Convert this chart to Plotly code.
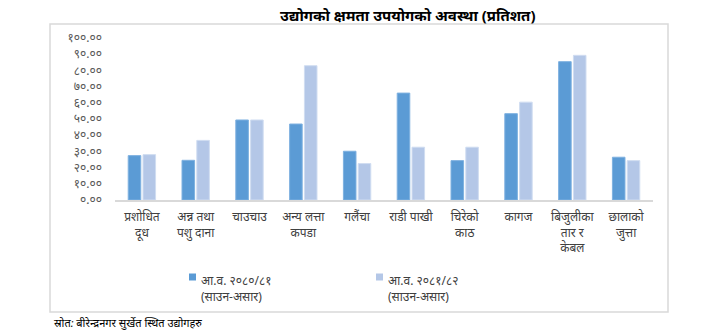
import plotly.graph_objects as go

categories = ["प्रशोधित<br>दूध", "अन्न तथा<br>पशु दाना", "चाउचाउ", "अन्य लत्ता<br>कपडा",
              "गलैंचा", "राडी पाखी", "चिरेको<br>काठ", "कागज",
              "बिजुलीका<br>तार र<br>केबल", "छालाको<br>जुत्ता"]
series_names = ["आ.व. २०८०/८१<br>(साउन-असार)", "आ.व. २०८१/८२<br>(साउन-असार)"]
values_2080 = [27.4, 24.5, 49.4, 46.9, 30.1, 66.0, 24.3, 53.3, 85.4, 26.4]
values_2081 = [28.0, 36.8, 49.4, 82.9, 22.5, 32.6, 32.6, 60.4, 89.3, 24.3]
tick_vals = [0, 10, 20, 30, 40, 50, 60, 70, 80, 90, 100]
tick_text = ["०.००", "१०.००", "२०.००", "३०.००", "४०.००", "५०.००",
             "६०.००", "७०.००", "८०.००", "९०.००", "१००.००"]
title_text = "उद्योगको क्षमता उपयोगको अवस्था (प्रतिशत)"
source_text = "स्रोत: बीरेन्द्रनगर सुर्खेत स्थित उद्योगहरु"
colors = ["#5B9BD5", "#B4C7E7"]
edge_colors = ["#7FB1E0", "#D0DDF1"]

W, H = 728, 336
L, R, T, B = 115, 653, 38, 200
def px(x): return (x - L) / (R - L)
def py(y): return (B - y) / (B - T)

FONT = "Noto Sans, Noto Sans Devanagari, sans-serif"
x_idx = list(range(len(categories)))

fig = go.Figure()
for vals, name, c, ec in zip([values_2080, values_2081], series_names, colors, edge_colors):
    fig.add_trace(go.Bar(x=x_idx, y=vals, name=name, showlegend=False,
                         marker=dict(color=c, line=dict(color=ec, width=1))))

fig.update_layout(
    width=W, height=H,
    margin=dict(l=L, r=W - R, t=T, b=H - B, autoexpand=False),
    paper_bgcolor="white", plot_bgcolor="white",
    barmode="group", bargap=0.45, bargroupgap=0.15,
    font=dict(family=FONT, size=11, color="#404040"),
    showlegend=False,
    xaxis=dict(tickmode="array", tickvals=x_idx, ticktext=categories, range=[-0.5, 9.5],
               showline=True, linecolor="#D9D9D9", linewidth=1.5, showgrid=False,
               ticks="", tickangle=0, tickfont=dict(size=12, color="#404040"), zeroline=False,
               ticklabelstandoff=5),
    yaxis=dict(tickmode="array", tickvals=tick_vals, ticktext=tick_text, range=[0, 100],
               showgrid=False, showline=False, zeroline=False, ticks="",
               ticklabelstandoff=12, tickfont=dict(size=12, color="#595959")),
)

fig.add_shape(type="rect", xref="paper", yref="paper",
              x0=px(50), x1=px(668), y0=py(312), y1=py(24),
              line=dict(color="#D9D9D9", width=1.5), fillcolor="rgba(0,0,0,0)", layer="below")

# manual legend
legend_sq_x = [189, 376]
legend_tx_x = [199, 386]
for sx, tx, c, name in zip(legend_sq_x, legend_tx_x, colors, series_names):
    fig.add_shape(type="rect", xref="paper", yref="paper",
                  x0=px(sx), x1=px(sx + 7), y0=py(280.5), y1=py(273.5),
                  line=dict(width=0), fillcolor=c)
    fig.add_annotation(text=name, xref="paper", yref="paper", align="left",
                       x=px(tx), y=py(270), xanchor="left", yanchor="top", showarrow=False,
                       font=dict(size=12, color="#404040", family=FONT))

fig.add_annotation(text="<b>" + title_text + "</b>", xref="paper", yref="paper",
                   x=px(408), y=py(15), xanchor="center", yanchor="middle", showarrow=False,
                   font=dict(size=15, color="#000000", family=FONT))
fig.add_annotation(text="<i>" + source_text + "</i>", xref="paper", yref="paper",
                   x=px(52), y=py(322), xanchor="left", yanchor="middle", showarrow=False,
                   font=dict(size=11, color="#000000", family=FONT))

fig.write_html("out.html")
